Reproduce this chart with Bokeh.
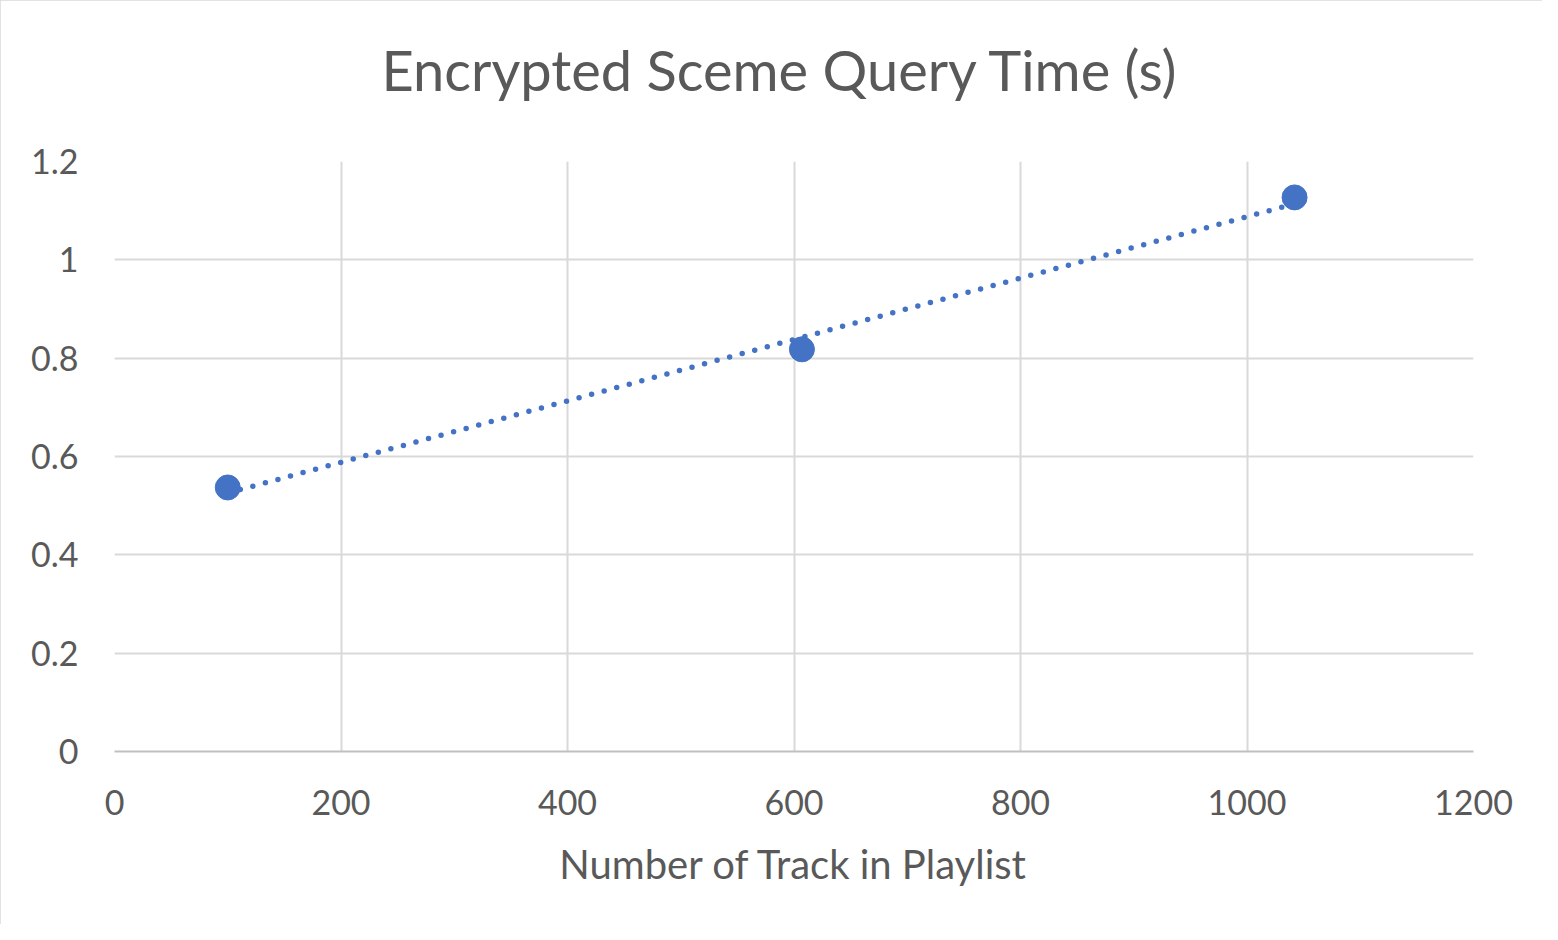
import numpy as np
from bokeh.plotting import figure
from bokeh.models import Range1d, FixedTicker, CustomJSTickFormatter, Title
from bokeh.embed import file_html
from bokeh.resources import INLINE

# ---- data ----
tracks = [100, 607, 1042]
query_time = [0.537, 0.818, 1.127]
x_ticks = [0, 200, 400, 600, 800, 1000, 1200]
y_ticks = [0, 0.2, 0.4, 0.6, 0.8, 1.0, 1.2]
title_text = "Encrypted Sceme Query Time (s)"
x_label = "Number of Track in Playlist"

BLUE = "#4472C4"
GRID = "#d9d9d9"
TEXT = "#595959"
FONT = "Lato"

p = figure(frame_width=1359, frame_height=590,
           min_border_left=114, min_border_right=69,
           min_border_top=161, min_border_bottom=173,
           x_range=Range1d(0, 1200), y_range=Range1d(0, 1.2),
           output_backend="svg", toolbar_location=None)

p.styles = {"outline": "2px solid #d9d9d9", "outline-offset": "-2px"}
p.outline_line_color = None

# real title (outermost panel)
p.title.text = title_text
p.title.align = "left"
p.title.vertical_align = "top"
p.title.offset = 267
p.title.standoff = 68
p.title.text_font = FONT
p.title.text_font_size = "56px"
p.title.text_font_style = "normal"
p.title.text_color = TEXT

# spacer panel between the title and the frame
spacer = Title(text=" ", text_font_size="10px", standoff=10)
p.add_layout(spacer, "above")

# grids
p.xgrid.ticker = FixedTicker(ticks=x_ticks)
p.ygrid.ticker = FixedTicker(ticks=y_ticks)
for g in (p.xgrid, p.ygrid):
    g.grid_line_color = GRID
    g.grid_line_width = 2

fmt = CustomJSTickFormatter(code="return Number(tick.toFixed(2)).toString();")

# axes
p.xaxis.ticker = FixedTicker(ticks=x_ticks)
p.yaxis.ticker = FixedTicker(ticks=y_ticks)
p.yaxis.formatter = fmt
p.xaxis.formatter = fmt
for ax in (p.xaxis, p.yaxis):
    ax.major_tick_line_color = None
    ax.minor_tick_line_color = None
    ax.major_label_text_font = FONT
    ax.major_label_text_font_size = "34px"
    ax.major_label_text_color = TEXT
p.xaxis.axis_line_color = "#bfbfbf"
p.xaxis.axis_line_width = 2
p.xaxis.major_label_standoff = 32
p.xaxis.axis_label = x_label
p.xaxis.axis_label_text_font = FONT
p.xaxis.axis_label_text_font_size = "40px"
p.xaxis.axis_label_text_font_style = "normal"
p.xaxis.axis_label_text_color = TEXT
p.xaxis.axis_label_standoff = 22
p.yaxis.axis_line_color = None
p.yaxis.major_label_standoff = 30

# linear trendline fitted from the data
coef = np.polyfit(tracks, query_time, 1)
tx = [min(tracks), max(tracks)]
ty = [coef[0] * v + coef[1] for v in tx]
p.line(tx, ty, line_color=BLUE, line_width=5.5, line_dash="0 13", line_cap="round")

# points
p.scatter(tracks, query_time, size=25, fill_color=BLUE, line_color=BLUE)

open("out.html", "w").write(file_html(p, INLINE))
